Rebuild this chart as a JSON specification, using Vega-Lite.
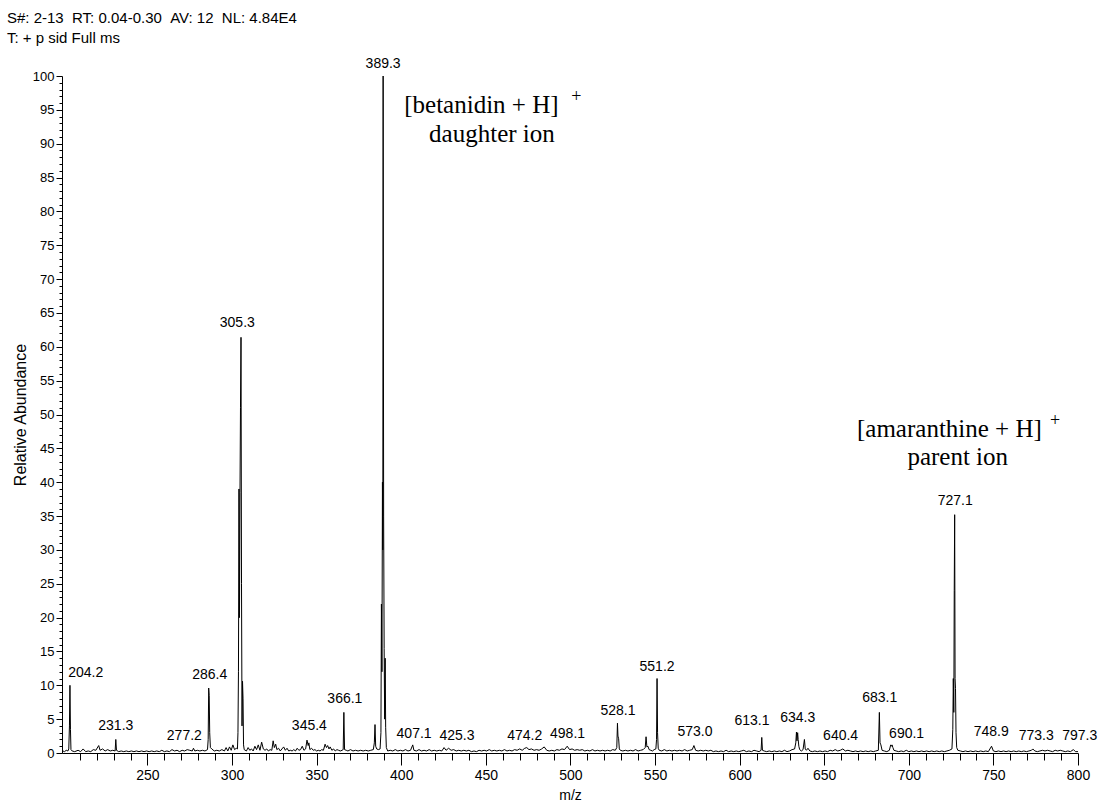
{
  "$schema": "https://vega.github.io/schema/vega-lite/v6.json",
  "autosize": "none",
  "width": 1016,
  "height": 677,
  "padding": {"left": 62, "top": 76, "right": 21, "bottom": 55},
  "background": "white",
  "config": {"view": {"stroke": null}},
  "title": {
    "text": "S#: 2-13\u00a0\u00a0RT: 0.04-0.30\u00a0\u00a0AV: 12\u00a0\u00a0NL: 4.84E4",
    "subtitle": "T: + p sid Full ms",
    "anchor": "start",
    "frame": "group",
    "font": "Liberation Sans",
    "fontSize": 15,
    "fontWeight": "normal",
    "color": "black",
    "subtitleFont": "Liberation Sans",
    "subtitleFontSize": 15,
    "subtitleColor": "black",
    "subtitlePadding": 5,
    "dx": -55,
    "offset": 11
  },
  "datasets": {
    "spectrum": [
      {"mz":200.0,"ab":0.3},{"mz":201.0,"ab":0.2},{"mz":202.0,"ab":0.4},{"mz":203.0,"ab":0.3},{"mz":203.5,"ab":0.6},{"mz":203.9,"ab":4.0},{"mz":204.2,"ab":10.0},{"mz":204.5,"ab":3.5},{"mz":204.8,"ab":0.5},{"mz":205.5,"ab":0.3},
      {"mz":207.0,"ab":0.2},{"mz":209.0,"ab":0.4},{"mz":210.5,"ab":0.2},{"mz":212.0,"ab":0.6},{"mz":213.5,"ab":0.2},{"mz":215.0,"ab":0.3},{"mz":216.5,"ab":0.2},{"mz":218.0,"ab":0.5},{"mz":219.5,"ab":0.4},{"mz":221.2,"ab":1.1},
      {"mz":222.0,"ab":0.4},{"mz":223.5,"ab":0.6},{"mz":225.0,"ab":0.3},{"mz":226.5,"ab":0.5},{"mz":228.0,"ab":0.3},{"mz":229.5,"ab":0.4},{"mz":230.9,"ab":0.3},{"mz":231.3,"ab":2.0},{"mz":231.7,"ab":0.4},{"mz":233.0,"ab":0.2},
      {"mz":234.5,"ab":0.3},{"mz":236.0,"ab":0.2},{"mz":237.5,"ab":0.3},{"mz":239.0,"ab":0.2},{"mz":240.5,"ab":0.3},{"mz":242.0,"ab":0.2},{"mz":243.5,"ab":0.3},{"mz":245.0,"ab":0.2},{"mz":246.5,"ab":0.3},{"mz":248.0,"ab":0.2},
      {"mz":249.5,"ab":0.3},{"mz":251.0,"ab":0.2},{"mz":252.5,"ab":0.3},{"mz":254.0,"ab":0.2},{"mz":255.5,"ab":0.3},{"mz":257.0,"ab":0.2},{"mz":258.5,"ab":0.4},{"mz":260.0,"ab":0.2},{"mz":261.5,"ab":0.3},{"mz":263.0,"ab":0.2},
      {"mz":264.5,"ab":0.5},{"mz":266.0,"ab":0.3},{"mz":267.5,"ab":0.4},{"mz":269.0,"ab":0.2},{"mz":270.5,"ab":0.4},{"mz":272.0,"ab":0.3},{"mz":273.5,"ab":0.5},{"mz":275.0,"ab":0.4},{"mz":276.5,"ab":0.3},{"mz":277.2,"ab":0.7},
      {"mz":278.0,"ab":0.3},{"mz":279.5,"ab":0.4},{"mz":281.0,"ab":0.3},{"mz":282.5,"ab":0.4},{"mz":284.0,"ab":0.3},{"mz":285.5,"ab":0.5},{"mz":285.9,"ab":2.0},{"mz":286.2,"ab":9.6},{"mz":286.5,"ab":8.5},{"mz":286.8,"ab":3.0},
      {"mz":287.2,"ab":0.8},{"mz":288.0,"ab":0.6},{"mz":289.5,"ab":0.3},{"mz":291.0,"ab":0.4},{"mz":292.5,"ab":0.3},{"mz":294.0,"ab":0.5},{"mz":295.5,"ab":0.3},{"mz":296.5,"ab":0.8},{"mz":297.5,"ab":0.3},{"mz":298.5,"ab":0.9},
      {"mz":299.5,"ab":0.4},{"mz":300.5,"ab":1.2},{"mz":301.5,"ab":0.5},{"mz":302.5,"ab":0.7},{"mz":303.2,"ab":0.6},{"mz":303.5,"ab":3.0},{"mz":303.8,"ab":12.0},{"mz":304.1,"ab":39.0},{"mz":304.4,"ab":20.0},{"mz":304.7,"ab":38.5},
      {"mz":305.0,"ab":51.0},{"mz":305.3,"ab":61.4},{"mz":305.6,"ab":25.0},{"mz":305.9,"ab":4.0},{"mz":306.2,"ab":10.6},{"mz":306.5,"ab":8.0},{"mz":306.8,"ab":1.2},{"mz":307.2,"ab":0.5},{"mz":308.5,"ab":0.3},{"mz":309.5,"ab":0.8},
      {"mz":310.5,"ab":0.4},{"mz":311.5,"ab":0.6},{"mz":312.5,"ab":0.3},{"mz":313.5,"ab":1.0},{"mz":314.5,"ab":0.5},{"mz":315.5,"ab":1.2},{"mz":316.5,"ab":0.4},{"mz":317.5,"ab":1.6},{"mz":318.5,"ab":0.6},{"mz":319.5,"ab":0.4},
      {"mz":320.5,"ab":0.6},{"mz":321.5,"ab":0.3},{"mz":322.5,"ab":0.5},{"mz":323.5,"ab":0.4},{"mz":324.3,"ab":1.8},{"mz":325.0,"ab":0.8},{"mz":325.8,"ab":1.3},{"mz":326.5,"ab":0.5},{"mz":327.5,"ab":0.7},{"mz":328.5,"ab":0.3},
      {"mz":329.5,"ab":0.6},{"mz":330.5,"ab":0.9},{"mz":331.5,"ab":0.4},{"mz":332.5,"ab":0.7},{"mz":333.5,"ab":0.3},{"mz":334.5,"ab":0.4},{"mz":335.5,"ab":0.3},{"mz":336.5,"ab":0.5},{"mz":337.5,"ab":0.3},{"mz":338.5,"ab":0.7},
      {"mz":339.5,"ab":0.4},{"mz":340.5,"ab":0.5},{"mz":341.5,"ab":1.0},{"mz":342.5,"ab":0.4},{"mz":343.5,"ab":0.6},{"mz":344.3,"ab":1.9},{"mz":345.0,"ab":1.1},{"mz":345.4,"ab":1.5},{"mz":346.0,"ab":0.5},{"mz":347.0,"ab":0.7},
      {"mz":348.0,"ab":0.4},{"mz":349.0,"ab":0.5},{"mz":350.0,"ab":0.3},{"mz":351.0,"ab":0.4},{"mz":352.0,"ab":0.3},{"mz":353.0,"ab":0.5},{"mz":354.0,"ab":0.4},{"mz":355.0,"ab":1.3},{"mz":355.8,"ab":0.8},{"mz":356.5,"ab":1.1},
      {"mz":357.3,"ab":0.6},{"mz":358.0,"ab":0.9},{"mz":359.0,"ab":0.4},{"mz":360.0,"ab":0.6},{"mz":361.0,"ab":0.3},{"mz":362.0,"ab":0.5},{"mz":363.0,"ab":0.4},{"mz":364.0,"ab":0.3},{"mz":365.0,"ab":0.4},{"mz":365.7,"ab":0.5},
      {"mz":366.1,"ab":6.0},{"mz":366.5,"ab":0.5},{"mz":367.5,"ab":0.4},{"mz":368.5,"ab":0.3},{"mz":370.0,"ab":0.5},{"mz":371.5,"ab":0.3},{"mz":373.0,"ab":0.4},{"mz":374.5,"ab":0.3},{"mz":376.0,"ab":0.4},{"mz":377.5,"ab":0.3},
      {"mz":379.0,"ab":0.4},{"mz":380.5,"ab":0.3},{"mz":382.0,"ab":0.4},{"mz":383.5,"ab":0.5},{"mz":384.1,"ab":1.5},{"mz":384.5,"ab":4.2},{"mz":384.9,"ab":1.0},{"mz":385.5,"ab":0.6},{"mz":386.5,"ab":0.5},{"mz":387.5,"ab":0.6},
      {"mz":388.0,"ab":3.0},{"mz":388.3,"ab":22.0},{"mz":388.6,"ab":12.0},{"mz":388.9,"ab":40.0},{"mz":389.1,"ab":30.0},{"mz":389.3,"ab":100.0},{"mz":389.6,"ab":35.0},{"mz":389.9,"ab":15.4},{"mz":390.2,"ab":5.0},{"mz":390.5,"ab":14.0},
      {"mz":390.8,"ab":3.8},{"mz":391.2,"ab":0.8},{"mz":392.0,"ab":0.3},{"mz":393.5,"ab":0.4},{"mz":395.0,"ab":0.3},{"mz":396.5,"ab":0.5},{"mz":398.0,"ab":0.3},{"mz":399.5,"ab":0.4},{"mz":401.0,"ab":0.3},{"mz":402.5,"ab":0.5},
      {"mz":404.0,"ab":0.3},{"mz":405.5,"ab":0.4},{"mz":406.8,"ab":1.2},{"mz":407.5,"ab":0.4},{"mz":409.0,"ab":0.3},{"mz":410.5,"ab":0.5},{"mz":412.0,"ab":0.3},{"mz":413.5,"ab":0.4},{"mz":415.0,"ab":0.3},{"mz":416.5,"ab":0.5},
      {"mz":418.0,"ab":0.3},{"mz":419.5,"ab":0.4},{"mz":421.0,"ab":0.3},{"mz":422.5,"ab":0.4},{"mz":424.0,"ab":0.3},{"mz":425.3,"ab":0.8},{"mz":426.5,"ab":0.4},{"mz":428.0,"ab":0.7},{"mz":429.5,"ab":0.4},{"mz":431.0,"ab":0.5},
      {"mz":432.5,"ab":0.3},{"mz":434.0,"ab":0.4},{"mz":435.5,"ab":0.3},{"mz":437.0,"ab":0.4},{"mz":438.5,"ab":0.3},{"mz":440.0,"ab":0.4},{"mz":441.5,"ab":0.2},{"mz":443.0,"ab":0.3},{"mz":444.5,"ab":0.2},{"mz":446.0,"ab":0.4},
      {"mz":447.5,"ab":0.3},{"mz":449.0,"ab":0.4},{"mz":450.5,"ab":0.3},{"mz":452.0,"ab":0.5},{"mz":453.5,"ab":0.3},{"mz":455.0,"ab":0.4},{"mz":456.5,"ab":0.3},{"mz":458.0,"ab":0.4},{"mz":459.5,"ab":0.3},{"mz":461.0,"ab":0.5},
      {"mz":462.5,"ab":0.3},{"mz":464.0,"ab":0.4},{"mz":465.5,"ab":0.3},{"mz":467.0,"ab":0.5},{"mz":468.5,"ab":0.4},{"mz":470.0,"ab":0.6},{"mz":471.5,"ab":0.4},{"mz":473.0,"ab":0.7},{"mz":474.2,"ab":0.8},{"mz":475.5,"ab":0.5},
      {"mz":477.0,"ab":0.6},{"mz":478.5,"ab":0.4},{"mz":480.0,"ab":0.5},{"mz":481.5,"ab":0.4},{"mz":483.0,"ab":0.6},{"mz":484.5,"ab":0.9},{"mz":486.0,"ab":0.4},{"mz":487.5,"ab":0.3},{"mz":489.0,"ab":0.4},{"mz":490.5,"ab":0.3},
      {"mz":492.0,"ab":0.5},{"mz":493.5,"ab":0.4},{"mz":495.0,"ab":0.6},{"mz":496.5,"ab":0.5},{"mz":498.1,"ab":1.0},{"mz":499.5,"ab":0.5},{"mz":501.0,"ab":0.6},{"mz":502.5,"ab":0.4},{"mz":504.0,"ab":0.5},{"mz":505.5,"ab":0.4},
      {"mz":507.0,"ab":0.5},{"mz":508.5,"ab":0.3},{"mz":510.0,"ab":0.4},{"mz":511.5,"ab":0.3},{"mz":513.0,"ab":0.5},{"mz":514.5,"ab":0.3},{"mz":516.0,"ab":0.4},{"mz":517.5,"ab":0.3},{"mz":519.0,"ab":0.4},{"mz":520.5,"ab":0.3},
      {"mz":522.0,"ab":0.4},{"mz":523.5,"ab":0.3},{"mz":525.0,"ab":0.5},{"mz":526.5,"ab":0.4},{"mz":527.4,"ab":0.8},{"mz":527.8,"ab":4.4},{"mz":528.1,"ab":2.5},{"mz":528.5,"ab":2.1},{"mz":528.9,"ab":0.6},{"mz":529.5,"ab":0.4},
      {"mz":531.0,"ab":0.3},{"mz":532.5,"ab":0.4},{"mz":534.0,"ab":0.3},{"mz":535.5,"ab":0.4},{"mz":537.0,"ab":0.3},{"mz":538.5,"ab":0.5},{"mz":540.0,"ab":0.3},{"mz":541.5,"ab":0.4},{"mz":543.0,"ab":0.5},{"mz":544.2,"ab":0.8},
      {"mz":544.7,"ab":2.4},{"mz":545.2,"ab":0.9},{"mz":545.8,"ab":1.0},{"mz":546.5,"ab":0.5},{"mz":547.5,"ab":0.4},{"mz":548.5,"ab":0.3},{"mz":549.5,"ab":0.5},{"mz":550.5,"ab":0.6},{"mz":550.9,"ab":2.0},{"mz":551.2,"ab":11.0},
      {"mz":551.5,"ab":3.0},{"mz":551.9,"ab":0.7},{"mz":552.5,"ab":0.4},{"mz":554.0,"ab":0.3},{"mz":555.5,"ab":0.5},{"mz":557.0,"ab":0.3},{"mz":558.5,"ab":0.4},{"mz":560.0,"ab":0.3},{"mz":561.5,"ab":0.4},{"mz":563.0,"ab":0.3},
      {"mz":564.5,"ab":0.4},{"mz":566.0,"ab":0.3},{"mz":567.5,"ab":0.5},{"mz":569.0,"ab":0.3},{"mz":570.5,"ab":0.4},{"mz":572.0,"ab":0.5},{"mz":573.0,"ab":1.1},{"mz":574.0,"ab":0.4},{"mz":575.5,"ab":0.3},{"mz":577.0,"ab":0.4},
      {"mz":578.5,"ab":0.3},{"mz":580.0,"ab":0.4},{"mz":581.5,"ab":0.3},{"mz":583.0,"ab":0.4},{"mz":584.5,"ab":0.2},{"mz":586.0,"ab":0.3},{"mz":587.5,"ab":0.2},{"mz":589.0,"ab":0.3},{"mz":590.5,"ab":0.2},{"mz":592.0,"ab":0.4},
      {"mz":593.5,"ab":0.2},{"mz":595.0,"ab":0.3},{"mz":596.5,"ab":0.2},{"mz":598.0,"ab":0.3},{"mz":599.5,"ab":0.2},{"mz":601.0,"ab":0.3},{"mz":602.5,"ab":0.4},{"mz":604.0,"ab":0.2},{"mz":605.5,"ab":0.3},{"mz":607.0,"ab":0.2},
      {"mz":608.5,"ab":0.4},{"mz":610.0,"ab":0.3},{"mz":611.5,"ab":0.2},{"mz":612.7,"ab":0.4},{"mz":613.1,"ab":2.3},{"mz":613.5,"ab":0.4},{"mz":614.5,"ab":0.3},{"mz":616.0,"ab":0.2},{"mz":617.5,"ab":0.3},{"mz":619.0,"ab":0.2},
      {"mz":620.5,"ab":0.3},{"mz":622.0,"ab":0.2},{"mz":623.5,"ab":0.3},{"mz":625.0,"ab":0.2},{"mz":626.5,"ab":0.4},{"mz":628.0,"ab":0.2},{"mz":629.5,"ab":0.3},{"mz":631.0,"ab":0.5},{"mz":632.5,"ab":0.6},{"mz":633.2,"ab":1.5},
      {"mz":633.6,"ab":3.1},{"mz":633.9,"ab":1.8},{"mz":634.3,"ab":3.0},{"mz":634.6,"ab":2.0},{"mz":635.0,"ab":1.0},{"mz":635.5,"ab":0.5},{"mz":636.5,"ab":0.3},{"mz":637.5,"ab":0.5},{"mz":638.3,"ab":2.0},{"mz":638.8,"ab":0.6},
      {"mz":639.5,"ab":0.4},{"mz":640.4,"ab":0.7},{"mz":641.5,"ab":0.3},{"mz":643.0,"ab":0.2},{"mz":644.5,"ab":0.3},{"mz":646.0,"ab":0.2},{"mz":647.5,"ab":0.3},{"mz":649.0,"ab":0.2},{"mz":650.5,"ab":0.3},{"mz":652.0,"ab":0.2},
      {"mz":653.5,"ab":0.4},{"mz":655.0,"ab":0.3},{"mz":656.5,"ab":0.5},{"mz":658.0,"ab":0.3},{"mz":659.5,"ab":0.4},{"mz":661.0,"ab":0.6},{"mz":662.5,"ab":0.3},{"mz":664.0,"ab":0.4},{"mz":665.5,"ab":0.3},{"mz":667.0,"ab":0.2},
      {"mz":668.5,"ab":0.3},{"mz":670.0,"ab":0.2},{"mz":671.5,"ab":0.3},{"mz":673.0,"ab":0.2},{"mz":674.5,"ab":0.3},{"mz":676.0,"ab":0.2},{"mz":677.5,"ab":0.3},{"mz":679.0,"ab":0.2},{"mz":680.5,"ab":0.3},{"mz":682.0,"ab":0.4},
      {"mz":682.6,"ab":6.0},{"mz":683.0,"ab":1.5},{"mz":683.5,"ab":1.2},{"mz":684.2,"ab":0.4},{"mz":685.5,"ab":0.3},{"mz":687.0,"ab":0.2},{"mz":688.5,"ab":0.4},{"mz":689.3,"ab":1.2},{"mz":689.8,"ab":1.0},{"mz":690.1,"ab":1.2},
      {"mz":690.6,"ab":0.8},{"mz":691.2,"ab":0.4},{"mz":692.5,"ab":0.3},{"mz":694.0,"ab":0.2},{"mz":695.5,"ab":0.3},{"mz":697.0,"ab":0.2},{"mz":698.5,"ab":0.4},{"mz":700.0,"ab":0.2},{"mz":701.5,"ab":0.3},{"mz":703.0,"ab":0.2},
      {"mz":704.5,"ab":0.3},{"mz":706.0,"ab":0.2},{"mz":707.5,"ab":0.3},{"mz":709.0,"ab":0.2},{"mz":710.5,"ab":0.3},{"mz":712.0,"ab":0.2},{"mz":713.5,"ab":0.3},{"mz":715.0,"ab":0.2},{"mz":716.5,"ab":0.3},{"mz":718.0,"ab":0.2},
      {"mz":719.5,"ab":0.3},{"mz":721.0,"ab":0.2},{"mz":722.5,"ab":0.3},{"mz":724.0,"ab":0.4},{"mz":725.5,"ab":0.6},{"mz":726.0,"ab":3.5},{"mz":726.3,"ab":11.0},{"mz":726.6,"ab":6.0},{"mz":726.85,"ab":24.0},{"mz":727.1,"ab":35.2},
      {"mz":727.35,"ab":11.0},{"mz":727.6,"ab":9.5},{"mz":727.9,"ab":3.0},{"mz":728.3,"ab":0.8},{"mz":729.0,"ab":0.4},{"mz":730.5,"ab":0.3},{"mz":732.0,"ab":0.2},{"mz":733.5,"ab":0.3},{"mz":735.0,"ab":0.2},{"mz":736.5,"ab":0.3},
      {"mz":738.0,"ab":0.2},{"mz":739.5,"ab":0.3},{"mz":741.0,"ab":0.2},{"mz":742.5,"ab":0.3},{"mz":744.0,"ab":0.2},{"mz":745.5,"ab":0.3},{"mz":747.0,"ab":0.2},{"mz":748.9,"ab":1.0},{"mz":750.0,"ab":0.3},{"mz":751.5,"ab":0.2},
      {"mz":753.0,"ab":0.3},{"mz":754.5,"ab":0.2},{"mz":756.0,"ab":0.3},{"mz":757.5,"ab":0.2},{"mz":759.0,"ab":0.3},{"mz":760.5,"ab":0.2},{"mz":762.0,"ab":0.3},{"mz":763.5,"ab":0.2},{"mz":765.0,"ab":0.3},{"mz":766.5,"ab":0.2},
      {"mz":768.0,"ab":0.3},{"mz":769.5,"ab":0.2},{"mz":771.0,"ab":0.3},{"mz":772.5,"ab":0.4},{"mz":773.3,"ab":0.6},{"mz":774.5,"ab":0.3},{"mz":776.0,"ab":0.2},{"mz":777.5,"ab":0.3},{"mz":779.0,"ab":0.4},{"mz":780.5,"ab":0.3},
      {"mz":782.0,"ab":0.4},{"mz":783.5,"ab":0.3},{"mz":785.0,"ab":0.2},{"mz":786.5,"ab":0.4},{"mz":788.0,"ab":0.3},{"mz":789.5,"ab":0.4},{"mz":791.0,"ab":0.3},{"mz":792.5,"ab":0.2},{"mz":794.0,"ab":0.3},{"mz":795.5,"ab":0.2},
      {"mz":797.3,"ab":0.5},{"mz":798.5,"ab":0.2},{"mz":800.0,"ab":0.2}
    ],
    "peaks": [
      {"peak":204.2,"mz":213.5,"ab":10.1},{"peak":231.3,"mz":231.3,"ab":2.2},{"peak":277.2,"mz":271.8,"ab":0.7},{"peak":286.4,"mz":286.8,"ab":9.7},{"peak":305.3,"mz":303.1,"ab":61.7},
      {"peak":345.4,"mz":345.7,"ab":2.2},{"peak":366.1,"mz":366.7,"ab":6.2},{"peak":389.3,"mz":389.3,"ab":100.0},{"peak":407.1,"mz":407.6,"ab":1.1},{"peak":425.3,"mz":432.9,"ab":0.8},
      {"peak":474.2,"mz":473.0,"ab":0.8},{"peak":498.1,"mz":498.3,"ab":1.1},{"peak":528.1,"mz":528.1,"ab":4.5},{"peak":551.2,"mz":551.2,"ab":11.0},{"peak":573.0,"mz":573.6,"ab":1.3},
      {"peak":613.1,"mz":607.3,"ab":2.9},{"peak":634.3,"mz":634.3,"ab":3.4},{"peak":640.4,"mz":659.7,"ab":0.8},{"peak":683.1,"mz":682.8,"ab":6.3},{"peak":690.1,"mz":698.7,"ab":1.1},
      {"peak":727.1,"mz":727.4,"ab":35.4},{"peak":748.9,"mz":748.7,"ab":1.4},{"peak":773.3,"mz":775.3,"ab":0.7},{"peak":797.3,"mz":801.0,"ab":0.7}
    ],
    "notes": [
      {"mz":447.4,"ab":94.5,"text":"[betanidin + H]"},
      {"mz":453.6,"ab":90.3,"text":"daughter ion"},
      {"mz":724.0,"ab":46.7,"text":"[amaranthine + H]"},
      {"mz":728.9,"ab":42.6,"text":"parent ion"}
    ],
    "charges": [
      {"mz":503.5,"ab":96.9,"text":"+"},
      {"mz":786.4,"ab":49.1,"text":"+"}
    ]
  },
  "encoding": {
    "x": {
      "field": "mz",
      "type": "quantitative",
      "scale": {"domain": [199.5, 800], "nice": false, "zero": false},
      "axis": {
        "title": "m/z",
        "values": [210,220,230,240,250,260,270,280,290,300,310,320,330,340,350,360,370,380,390,400,410,420,430,440,450,460,470,480,490,500,510,520,530,540,550,560,570,580,590,600,610,620,630,640,650,660,670,680,690,700,710,720,730,740,750,760,770,780,790,800],
        "labelExpr": "datum.value % 50 === 0 ? datum.label : ''",
        "tickSize": {"condition": {"test": "datum.value % 50 === 0", "value": 12}, "value": 7},
        "grid": false,
        "domainColor": "black",
        "tickColor": "black",
        "labelColor": "black",
        "titleColor": "black",
        "labelFont": "Liberation Sans",
        "labelFontSize": 14,
        "titleFont": "Liberation Sans",
        "titleFontSize": 14,
        "titleFontWeight": "normal",
        "labelPadding": 3,
        "titlePadding": 6,
        "labelOverlap": false,
        "labelFlush": false,
        "labelBound": false
      }
    },
    "y": {
      "field": "ab",
      "type": "quantitative",
      "scale": {"domain": [0, 100], "nice": false},
      "axis": {
        "title": "Relative Abundance",
        "values": [0,1,2,3,4,5,6,7,8,9,10,11,12,13,14,15,16,17,18,19,20,21,22,23,24,25,26,27,28,29,30,31,32,33,34,35,36,37,38,39,40,41,42,43,44,45,46,47,48,49,50,51,52,53,54,55,56,57,58,59,60,61,62,63,64,65,66,67,68,69,70,71,72,73,74,75,76,77,78,79,80,81,82,83,84,85,86,87,88,89,90,91,92,93,94,95,96,97,98,99,100],
        "labelExpr": "datum.value % 5 === 0 ? datum.label : ''",
        "tickSize": {"condition": {"test": "datum.value % 5 === 0", "value": 6}, "value": 3},
        "grid": false,
        "domainColor": "black",
        "tickColor": "black",
        "labelColor": "black",
        "titleColor": "black",
        "labelFont": "Liberation Sans",
        "labelFontSize": 13,
        "titleFont": "Liberation Sans",
        "titleFontSize": 16,
        "titleFontWeight": "normal",
        "labelPadding": 2,
        "titlePadding": 4,
        "labelOverlap": false,
        "labelFlush": false,
        "labelBound": false
      }
    }
  },
  "layer": [
    {
      "data": {"name": "spectrum"},
      "mark": {"type": "line", "color": "black", "strokeWidth": 1, "clip": false}
    },
    {
      "data": {"name": "peaks"},
      "mark": {"type": "text", "baseline": "bottom", "align": "center", "dy": -5, "font": "Liberation Sans", "fontSize": 14, "color": "black"},
      "encoding": {
        "text": {"field": "peak", "type": "quantitative", "format": ".1f"}
      }
    },
    {
      "data": {"name": "notes"},
      "mark": {"type": "text", "baseline": "alphabetic", "align": "center", "font": "Liberation Serif", "fontSize": 25, "color": "black"},
      "encoding": {
        "text": {"field": "text", "type": "nominal"}
      }
    },
    {
      "data": {"name": "charges"},
      "mark": {"type": "text", "baseline": "middle", "align": "center", "font": "Liberation Serif", "fontSize": 18, "color": "black"},
      "encoding": {
        "text": {"field": "text", "type": "nominal"}
      }
    }
  ]
}
